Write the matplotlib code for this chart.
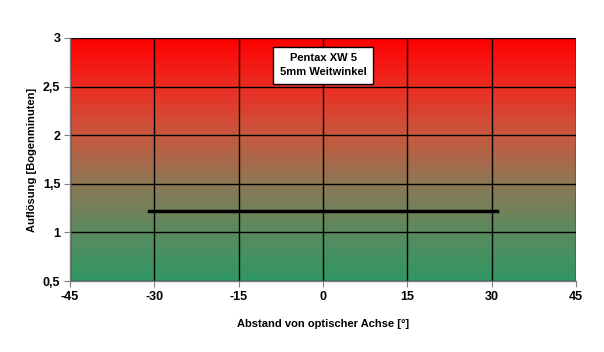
import numpy as np
import matplotlib
matplotlib.use("Agg")
import matplotlib.pyplot as plt
from matplotlib.colors import LinearSegmentedColormap
from matplotlib.ticker import FuncFormatter

plt.rcParams['font.family'] = ['Liberation Sans', 'DejaVu Sans']
plt.rcParams['font.weight'] = 'bold'
plt.rcParams['axes.unicode_minus'] = False

# data
abstand = [-31, 31]
aufloesung = [1.22, 1.22]
x_ticks = [-45, -30, -15, 0, 15, 30, 45]
y_ticks = [0.5, 1, 1.5, 2, 2.5, 3]
titel = "Pentax XW 5\n5mm Weitwinkel"

fig = plt.figure(figsize=(6.04, 3.52), dpi=100)
ax = fig.add_axes([70 / 604, 1 - 281 / 352, 506 / 604, 243 / 352])

# background gradient green (bottom) -> red (top)
stops = [(0.0, (48, 152, 100)), (0.2, (90, 138, 95)), (0.4, (140, 120, 85)),
         (0.6, (200, 88, 62)), (0.8, (236, 45, 35)), (1.0, (255, 0, 0))]
cmap = LinearSegmentedColormap.from_list(
    "rg", [(p, tuple(c / 255 for c in rgb)) for p, rgb in stops])
grad = np.linspace(0, 1, 256).reshape(-1, 1)
ax.imshow(grad, aspect='auto', cmap=cmap, origin='lower',
          extent=[-45, 45, 0.5, 3], zorder=0)

ax.set_xlim(-45, 45)
ax.set_ylim(0.5, 3)
ax.set_xticks(x_ticks)
ax.set_yticks(y_ticks)
ax.grid(True, color='black', linewidth=1)
for gl in ax.get_xgridlines() + ax.get_ygridlines():
    gl.set_zorder(1)

ax.plot(abstand, aufloesung, color='black', linewidth=2.5, zorder=3)

fmt = FuncFormatter(lambda v, p: ("%g" % v).replace('.', ','))
ax.yaxis.set_major_formatter(fmt)
ax.tick_params(direction='out', length=4, color='grey', labelsize=9, pad=3)
for s in ax.spines.values():
    s.set_color('grey')
    s.set_linewidth(1)
ax.spines['top'].set_visible(False)
ax.spines['right'].set_visible(False)

ax.set_xlabel("Abstand von optischer Achse [°]", fontsize=8, fontweight='bold')
ax.set_ylabel("Auflösung [Bogenminuten]", fontsize=8, fontweight='bold')
ax.yaxis.set_label_coords(-0.065, 0.5)
ax.xaxis.set_label_coords(0.5, -0.155)

ax.text(0, 2.72, titel, ha='center', va='center', fontsize=8, fontweight='bold',
        linespacing=1.5, zorder=4,
        bbox=dict(boxstyle='square,pad=0.6', facecolor='white', edgecolor='black', linewidth=1))

fig.savefig("out.png", dpi=100)
